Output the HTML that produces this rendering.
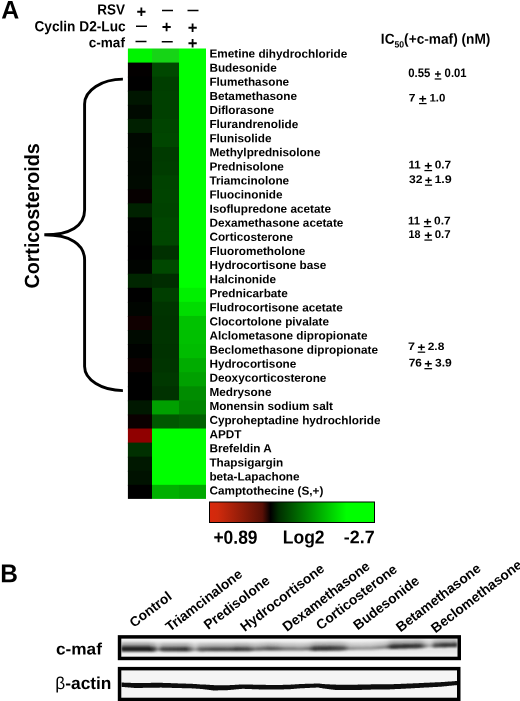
<!DOCTYPE html>
<html><head><meta charset="utf-8"><title>Figure</title>
<style>
html,body{margin:0;padding:0;background:#fff;}
body{width:520px;height:701px;overflow:hidden;}
svg{display:block;}
text{font-family:"Liberation Sans",Arial,Helvetica,sans-serif;font-weight:bold;fill:#000;text-rendering:geometricPrecision;}
</style></head><body>
<svg width="520" height="701" viewBox="0 0 520 701">
<defs>
<linearGradient id="cb" x1="0" x2="1" y1="0" y2="0">
<stop offset="0" stop-color="#d8280c"/>
<stop offset="0.05" stop-color="#d02a0c"/>
<stop offset="0.32" stop-color="#5a1006"/>
<stop offset="0.37" stop-color="#000000"/>
<stop offset="0.42" stop-color="#002e00"/>
<stop offset="0.83" stop-color="#00ff00"/>
<stop offset="1" stop-color="#00ff00"/>
</linearGradient>
<filter id="bl1" x="-5%" y="-100%" width="110%" height="300%"><feGaussianBlur stdDeviation="1.0 0.9"/></filter>
<filter id="bl3" x="-5%" y="-100%" width="110%" height="300%"><feGaussianBlur stdDeviation="1.5 1.4"/></filter>
<filter id="bl2" x="-5%" y="-50%" width="110%" height="200%"><feGaussianBlur stdDeviation="0.5 0.45"/></filter>
<clipPath id="cclip"><rect x="121.3" y="638.6" width="336.4" height="18.6"/></clipPath>
<clipPath id="bclip"><rect x="121.3" y="670.4" width="336" height="27.3"/></clipPath>
</defs>
<rect width="520" height="701" fill="#fff"/>
<g transform="translate(1.33,18.40) scale(1.1322,1.1560) rotate(0.03)"><text x="0" y="0" font-size="22">A</text></g>
<g transform="translate(97.15,14.40) scale(1.0019,1.0895) rotate(0.03)"><text x="0" y="0" font-size="13.5">RSV</text></g>
<g transform="translate(34.39,31.20) scale(1.0135,1.0842) rotate(0.03)"><text x="0" y="0" font-size="13.5">Cyclin D2-Luc</text></g>
<g transform="translate(88.70,47.20) scale(1.0056,1.0256) rotate(0.03)"><text x="0" y="0" font-size="13.5">c-maf</text></g>
<g transform="translate(380.84,43.65) scale(1.0136,1.0703) rotate(0.03)"><text x="0" y="0" font-size="13.5">IC<tspan font-size="8.5" dy="3.7">50</tspan><tspan dy="-3.7">(+c-maf) (nM)</tspan></text></g>
<g transform="translate(213.43,543.70) scale(1.0251,1.1234) rotate(0.03)"><text x="0" y="0" font-size="17">+0.89</text></g>
<g transform="translate(282.71,543.50) scale(1.0323,1.1064) rotate(0.03)"><text x="0" y="0" font-size="17">Log2</text></g>
<g transform="translate(343.81,543.30) scale(1.0523,1.0723) rotate(0.03)"><text x="0" y="0" font-size="17">-2.7</text></g>
<g transform="translate(0.18,582.30) scale(1.1111,1.1667) rotate(0.03)"><text x="0" y="0" font-size="22">B</text></g>
<g transform="translate(55.95,654.60) scale(0.9967,0.9520) rotate(0.03)"><text x="0" y="0" font-size="17.3">c-maf</text></g>
<g transform="translate(55.25,689.10) scale(1.0028,1.0000) rotate(0.03)"><text x="0" y="0" font-size="17.3"><tspan font-weight="normal">β</tspan>-actin</text></g>
<g transform="translate(136.46,17.13) scale(1.1857,1.1857) rotate(0.03)"><text x="0" y="0" font-size="14" font-weight="normal">+</text></g>
<g transform="translate(162.00,15.05) scale(0.9167,1.4000) rotate(0.03)"><text x="0" y="0" font-size="12" font-weight="normal">—</text></g>
<g transform="translate(187.40,15.05) scale(0.9167,1.4000) rotate(0.03)"><text x="0" y="0" font-size="12" font-weight="normal">—</text></g>
<g transform="translate(135.90,30.75) scale(0.9167,1.4000) rotate(0.03)"><text x="0" y="0" font-size="12" font-weight="normal">—</text></g>
<g transform="translate(161.76,32.53) scale(1.1857,1.1857) rotate(0.03)"><text x="0" y="0" font-size="14" font-weight="normal">+</text></g>
<g transform="translate(187.66,33.33) scale(1.1857,1.1857) rotate(0.03)"><text x="0" y="0" font-size="14" font-weight="normal">+</text></g>
<g transform="translate(135.50,46.05) scale(0.9167,1.4000) rotate(0.03)"><text x="0" y="0" font-size="12" font-weight="normal">—</text></g>
<g transform="translate(161.70,46.35) scale(0.9167,1.4000) rotate(0.03)"><text x="0" y="0" font-size="12" font-weight="normal">—</text></g>
<g transform="translate(187.66,48.73) scale(1.1857,1.1857) rotate(0.03)"><text x="0" y="0" font-size="14" font-weight="normal">+</text></g>
<g>
<rect x="127.9" y="48.50" width="24.10" height="15.07" fill="#00f400"/>
<rect x="152" y="48.50" width="27.00" height="15.07" fill="#16d416"/>
<rect x="179" y="48.50" width="27.00" height="15.07" fill="#00ff00"/>
<rect x="127.9" y="62.58" width="24.10" height="15.07" fill="#030000"/>
<rect x="152" y="62.58" width="27.00" height="15.07" fill="#004800"/>
<rect x="179" y="62.58" width="27.00" height="15.07" fill="#00ff00"/>
<rect x="127.9" y="76.65" width="24.10" height="15.07" fill="#000000"/>
<rect x="152" y="76.65" width="27.00" height="15.07" fill="#003e00"/>
<rect x="179" y="76.65" width="27.00" height="15.07" fill="#00ff00"/>
<rect x="127.9" y="90.72" width="24.10" height="15.07" fill="#001600"/>
<rect x="152" y="90.72" width="27.00" height="15.07" fill="#004000"/>
<rect x="179" y="90.72" width="27.00" height="15.07" fill="#00ff00"/>
<rect x="127.9" y="104.80" width="24.10" height="15.07" fill="#000a00"/>
<rect x="152" y="104.80" width="27.00" height="15.07" fill="#004000"/>
<rect x="179" y="104.80" width="27.00" height="15.07" fill="#00ff00"/>
<rect x="127.9" y="118.88" width="24.10" height="15.07" fill="#002000"/>
<rect x="152" y="118.88" width="27.00" height="15.07" fill="#004400"/>
<rect x="179" y="118.88" width="27.00" height="15.07" fill="#00ff00"/>
<rect x="127.9" y="132.95" width="24.10" height="15.07" fill="#000800"/>
<rect x="152" y="132.95" width="27.00" height="15.07" fill="#004600"/>
<rect x="179" y="132.95" width="27.00" height="15.07" fill="#00ff00"/>
<rect x="127.9" y="147.02" width="24.10" height="15.07" fill="#000a00"/>
<rect x="152" y="147.02" width="27.00" height="15.07" fill="#003a00"/>
<rect x="179" y="147.02" width="27.00" height="15.07" fill="#00ff00"/>
<rect x="127.9" y="161.10" width="24.10" height="15.07" fill="#000800"/>
<rect x="152" y="161.10" width="27.00" height="15.07" fill="#003c00"/>
<rect x="179" y="161.10" width="27.00" height="15.07" fill="#00ff00"/>
<rect x="127.9" y="175.18" width="24.10" height="15.07" fill="#000a00"/>
<rect x="152" y="175.18" width="27.00" height="15.07" fill="#004200"/>
<rect x="179" y="175.18" width="27.00" height="15.07" fill="#00ff00"/>
<rect x="127.9" y="189.25" width="24.10" height="15.07" fill="#060000"/>
<rect x="152" y="189.25" width="27.00" height="15.07" fill="#004400"/>
<rect x="179" y="189.25" width="27.00" height="15.07" fill="#00ff00"/>
<rect x="127.9" y="203.32" width="24.10" height="15.07" fill="#002200"/>
<rect x="152" y="203.32" width="27.00" height="15.07" fill="#004200"/>
<rect x="179" y="203.32" width="27.00" height="15.07" fill="#00ff00"/>
<rect x="127.9" y="217.40" width="24.10" height="15.07" fill="#000400"/>
<rect x="152" y="217.40" width="27.00" height="15.07" fill="#004600"/>
<rect x="179" y="217.40" width="27.00" height="15.07" fill="#00ff00"/>
<rect x="127.9" y="231.47" width="24.10" height="15.07" fill="#000200"/>
<rect x="152" y="231.47" width="27.00" height="15.07" fill="#004600"/>
<rect x="179" y="231.47" width="27.00" height="15.07" fill="#00ff00"/>
<rect x="127.9" y="245.55" width="24.10" height="15.07" fill="#000000"/>
<rect x="152" y="245.55" width="27.00" height="15.07" fill="#003000"/>
<rect x="179" y="245.55" width="27.00" height="15.07" fill="#00ff00"/>
<rect x="127.9" y="259.62" width="24.10" height="15.07" fill="#000400"/>
<rect x="152" y="259.62" width="27.00" height="15.07" fill="#004800"/>
<rect x="179" y="259.62" width="27.00" height="15.07" fill="#00ff00"/>
<rect x="127.9" y="273.70" width="24.10" height="15.07" fill="#002600"/>
<rect x="152" y="273.70" width="27.00" height="15.07" fill="#002c00"/>
<rect x="179" y="273.70" width="27.00" height="15.07" fill="#00ff00"/>
<rect x="127.9" y="287.77" width="24.10" height="15.07" fill="#000000"/>
<rect x="152" y="287.77" width="27.00" height="15.07" fill="#003e00"/>
<rect x="179" y="287.77" width="27.00" height="15.07" fill="#00f000"/>
<rect x="127.9" y="301.85" width="24.10" height="15.07" fill="#000500"/>
<rect x="152" y="301.85" width="27.00" height="15.07" fill="#003400"/>
<rect x="179" y="301.85" width="27.00" height="15.07" fill="#00dc00"/>
<rect x="127.9" y="315.93" width="24.10" height="15.07" fill="#100000"/>
<rect x="152" y="315.93" width="27.00" height="15.07" fill="#003200"/>
<rect x="179" y="315.93" width="27.00" height="15.07" fill="#00c200"/>
<rect x="127.9" y="330.00" width="24.10" height="15.07" fill="#000a00"/>
<rect x="152" y="330.00" width="27.00" height="15.07" fill="#003400"/>
<rect x="179" y="330.00" width="27.00" height="15.07" fill="#00c000"/>
<rect x="127.9" y="344.07" width="24.10" height="15.07" fill="#000200"/>
<rect x="152" y="344.07" width="27.00" height="15.07" fill="#003200"/>
<rect x="179" y="344.07" width="27.00" height="15.07" fill="#00bc00"/>
<rect x="127.9" y="358.15" width="24.10" height="15.07" fill="#0c0000"/>
<rect x="152" y="358.15" width="27.00" height="15.07" fill="#003400"/>
<rect x="179" y="358.15" width="27.00" height="15.07" fill="#00ac00"/>
<rect x="127.9" y="372.22" width="24.10" height="15.07" fill="#000000"/>
<rect x="152" y="372.22" width="27.00" height="15.07" fill="#003800"/>
<rect x="179" y="372.22" width="27.00" height="15.07" fill="#00a000"/>
<rect x="127.9" y="386.30" width="24.10" height="15.07" fill="#000000"/>
<rect x="152" y="386.30" width="27.00" height="15.07" fill="#003200"/>
<rect x="179" y="386.30" width="27.00" height="15.07" fill="#008c00"/>
<rect x="127.9" y="400.38" width="24.10" height="15.07" fill="#001800"/>
<rect x="152" y="400.38" width="27.00" height="15.07" fill="#00a000"/>
<rect x="179" y="400.38" width="27.00" height="15.07" fill="#008400"/>
<rect x="127.9" y="414.45" width="24.10" height="15.07" fill="#0a0000"/>
<rect x="152" y="414.45" width="27.00" height="15.07" fill="#005800"/>
<rect x="179" y="414.45" width="27.00" height="15.07" fill="#006000"/>
<rect x="127.9" y="428.52" width="24.10" height="15.07" fill="#900000"/>
<rect x="152" y="428.52" width="27.00" height="15.07" fill="#00ff00"/>
<rect x="179" y="428.52" width="27.00" height="15.07" fill="#00ff00"/>
<rect x="127.9" y="442.60" width="24.10" height="15.07" fill="#003000"/>
<rect x="152" y="442.60" width="27.00" height="15.07" fill="#00ff00"/>
<rect x="179" y="442.60" width="27.00" height="15.07" fill="#00ff00"/>
<rect x="127.9" y="456.67" width="24.10" height="15.07" fill="#001800"/>
<rect x="152" y="456.67" width="27.00" height="15.07" fill="#00ff00"/>
<rect x="179" y="456.67" width="27.00" height="15.07" fill="#00ff00"/>
<rect x="127.9" y="470.75" width="24.10" height="15.07" fill="#001200"/>
<rect x="152" y="470.75" width="27.00" height="15.07" fill="#00ff00"/>
<rect x="179" y="470.75" width="27.00" height="15.07" fill="#00ff00"/>
<rect x="127.9" y="484.82" width="24.10" height="14.07" fill="#000000"/>
<rect x="152" y="484.82" width="27.00" height="14.07" fill="#00b000"/>
<rect x="179" y="484.82" width="27.00" height="14.07" fill="#00a800"/>
</g>
<g transform="translate(209.40,57.60) scale(1.0059,1.0000) rotate(0.03)"><text x="0" y="0" font-size="11.7">Emetine dihydrochloride</text></g>
<g transform="translate(209.40,71.70) scale(1.0059,1.0000) rotate(0.03)"><text x="0" y="0" font-size="11.7">Budesonide</text></g>
<g transform="translate(209.40,85.79) scale(1.0059,1.0000) rotate(0.03)"><text x="0" y="0" font-size="11.7">Flumethasone</text></g>
<g transform="translate(209.40,99.89) scale(1.0059,1.0000) rotate(0.03)"><text x="0" y="0" font-size="11.7">Betamethasone</text></g>
<g transform="translate(209.40,113.99) scale(1.0059,1.0000) rotate(0.03)"><text x="0" y="0" font-size="11.7">Diflorasone</text></g>
<g transform="translate(209.40,128.09) scale(1.0059,1.0000) rotate(0.03)"><text x="0" y="0" font-size="11.7">Flurandrenolide</text></g>
<g transform="translate(209.40,142.18) scale(1.0059,1.0000) rotate(0.03)"><text x="0" y="0" font-size="11.7">Flunisolide</text></g>
<g transform="translate(209.40,156.28) scale(1.0059,1.0000) rotate(0.03)"><text x="0" y="0" font-size="11.7">Methylprednisolone</text></g>
<g transform="translate(209.40,170.38) scale(1.0059,1.0000) rotate(0.03)"><text x="0" y="0" font-size="11.7">Prednisolone</text></g>
<g transform="translate(209.40,184.47) scale(1.0059,1.0000) rotate(0.03)"><text x="0" y="0" font-size="11.7">Triamcinolone</text></g>
<g transform="translate(209.40,198.57) scale(1.0059,1.0000) rotate(0.03)"><text x="0" y="0" font-size="11.7">Fluocinonide</text></g>
<g transform="translate(209.40,212.67) scale(1.0059,1.0000) rotate(0.03)"><text x="0" y="0" font-size="11.7">Isoflupredone acetate</text></g>
<g transform="translate(209.40,226.76) scale(1.0059,1.0000) rotate(0.03)"><text x="0" y="0" font-size="11.7">Dexamethasone acetate</text></g>
<g transform="translate(209.40,240.86) scale(1.0059,1.0000) rotate(0.03)"><text x="0" y="0" font-size="11.7">Corticosterone</text></g>
<g transform="translate(209.40,254.96) scale(1.0059,1.0000) rotate(0.03)"><text x="0" y="0" font-size="11.7">Fluorometholone</text></g>
<g transform="translate(209.40,269.06) scale(1.0059,1.0000) rotate(0.03)"><text x="0" y="0" font-size="11.7">Hydrocortisone base</text></g>
<g transform="translate(209.40,283.15) scale(1.0059,1.0000) rotate(0.03)"><text x="0" y="0" font-size="11.7">Halcinonide</text></g>
<g transform="translate(209.40,297.25) scale(1.0059,1.0000) rotate(0.03)"><text x="0" y="0" font-size="11.7">Prednicarbate</text></g>
<g transform="translate(209.40,311.35) scale(1.0059,1.0000) rotate(0.03)"><text x="0" y="0" font-size="11.7">Fludrocortisone acetate</text></g>
<g transform="translate(209.40,325.44) scale(1.0059,1.0000) rotate(0.03)"><text x="0" y="0" font-size="11.7">Clocortolone pivalate</text></g>
<g transform="translate(209.40,339.54) scale(1.0059,1.0000) rotate(0.03)"><text x="0" y="0" font-size="11.7">Alclometasone dipropionate</text></g>
<g transform="translate(209.40,353.64) scale(1.0059,1.0000) rotate(0.03)"><text x="0" y="0" font-size="11.7">Beclomethasone dipropionate</text></g>
<g transform="translate(209.40,367.73) scale(1.0059,1.0000) rotate(0.03)"><text x="0" y="0" font-size="11.7">Hydrocortisone</text></g>
<g transform="translate(209.40,381.83) scale(1.0059,1.0000) rotate(0.03)"><text x="0" y="0" font-size="11.7">Deoxycorticosterone</text></g>
<g transform="translate(209.40,395.93) scale(1.0059,1.0000) rotate(0.03)"><text x="0" y="0" font-size="11.7">Medrysone</text></g>
<g transform="translate(209.40,410.03) scale(1.0059,1.0000) rotate(0.03)"><text x="0" y="0" font-size="11.7">Monensin sodium salt</text></g>
<g transform="translate(209.40,424.12) scale(1.0059,1.0000) rotate(0.03)"><text x="0" y="0" font-size="11.7">Cyproheptadine hydrochloride</text></g>
<g transform="translate(209.40,438.22) scale(1.0059,1.0000) rotate(0.03)"><text x="0" y="0" font-size="11.7">APDT</text></g>
<g transform="translate(209.40,452.32) scale(1.0059,1.0000) rotate(0.03)"><text x="0" y="0" font-size="11.7">Brefeldin A</text></g>
<g transform="translate(209.40,466.41) scale(1.0059,1.0000) rotate(0.03)"><text x="0" y="0" font-size="11.7">Thapsigargin</text></g>
<g transform="translate(209.40,480.51) scale(1.0059,1.0000) rotate(0.03)"><text x="0" y="0" font-size="11.7">beta-Lapachone</text></g>
<g transform="translate(209.40,494.61) scale(1.0059,1.0000) rotate(0.03)"><text x="0" y="0" font-size="11.7">Camptothecine (S,+)</text></g>
<g transform="translate(408.31,76.90) scale(0.9860,1.0750) rotate(0.03)"><text x="0" y="0" font-size="11.5">0.55</text></g>
<g transform="translate(434.60,78.04) scale(1.0087,1.0435) rotate(0.03)"><text x="0" y="0" font-size="11.5">+</text></g>
<g transform="translate(444.61,76.90) scale(0.9814,1.0750) rotate(0.03)"><text x="0" y="0" font-size="11.5">0.01</text></g>
<rect x="434.70" y="78.35" width="6.60" height="1.25" fill="#000"/>
<g transform="translate(408.77,101.50) scale(1.0545,0.9625) rotate(0.03)"><text x="0" y="0" font-size="11.5">7</text></g>
<g transform="translate(418.81,102.64) scale(1.1826,1.0435) rotate(0.03)"><text x="0" y="0" font-size="11.5">+</text></g>
<g transform="translate(429.45,101.50) scale(0.9966,0.9625) rotate(0.03)"><text x="0" y="0" font-size="11.5">1.0</text></g>
<rect x="419.00" y="102.95" width="7.60" height="1.25" fill="#000"/>
<g transform="translate(408.45,168.50) scale(1.0000,0.9875) rotate(0.03)"><text x="0" y="0" font-size="11.5">11</text></g>
<g transform="translate(424.20,169.64) scale(1.2000,1.0435) rotate(0.03)"><text x="0" y="0" font-size="11.5">+</text></g>
<g transform="translate(434.68,168.50) scale(1.0333,0.9875) rotate(0.03)"><text x="0" y="0" font-size="11.5">0.7</text></g>
<rect x="424.40" y="169.95" width="7.70" height="1.25" fill="#000"/>
<g transform="translate(408.94,183.10) scale(1.0583,0.9625) rotate(0.03)"><text x="0" y="0" font-size="11.5">32</text></g>
<g transform="translate(424.74,184.24) scale(1.1130,1.0435) rotate(0.03)"><text x="0" y="0" font-size="11.5">+</text></g>
<g transform="translate(434.38,183.10) scale(1.0915,0.9625) rotate(0.03)"><text x="0" y="0" font-size="11.5">1.9</text></g>
<rect x="424.90" y="184.55" width="7.20" height="1.25" fill="#000"/>
<g transform="translate(408.06,224.50) scale(0.9818,0.9875) rotate(0.03)"><text x="0" y="0" font-size="11.5">11</text></g>
<g transform="translate(423.60,225.64) scale(1.2000,1.0435) rotate(0.03)"><text x="0" y="0" font-size="11.5">+</text></g>
<g transform="translate(434.08,224.50) scale(1.0400,0.9875) rotate(0.03)"><text x="0" y="0" font-size="11.5">0.7</text></g>
<rect x="423.80" y="225.95" width="7.70" height="1.25" fill="#000"/>
<g transform="translate(408.50,238.00) scale(0.9362,0.9750) rotate(0.03)"><text x="0" y="0" font-size="11.5">18</text></g>
<g transform="translate(424.20,239.14) scale(1.2000,1.0435) rotate(0.03)"><text x="0" y="0" font-size="11.5">+</text></g>
<g transform="translate(434.70,238.00) scale(1.0000,0.9750) rotate(0.03)"><text x="0" y="0" font-size="11.5">0.7</text></g>
<rect x="424.40" y="239.45" width="7.70" height="1.25" fill="#000"/>
<g transform="translate(408.05,350.10) scale(1.0909,0.9375) rotate(0.03)"><text x="0" y="0" font-size="11.5">7</text></g>
<g transform="translate(417.52,351.24) scale(1.1652,1.0435) rotate(0.03)"><text x="0" y="0" font-size="11.5">+</text></g>
<g transform="translate(427.68,350.10) scale(1.0400,0.9375) rotate(0.03)"><text x="0" y="0" font-size="11.5">2.8</text></g>
<rect x="417.70" y="351.55" width="7.50" height="1.25" fill="#000"/>
<g transform="translate(408.69,366.60) scale(1.0298,0.9750) rotate(0.03)"><text x="0" y="0" font-size="11.5">76</text></g>
<g transform="translate(424.20,367.74) scale(1.2000,1.0435) rotate(0.03)"><text x="0" y="0" font-size="11.5">+</text></g>
<g transform="translate(434.94,366.60) scale(1.0557,0.9750) rotate(0.03)"><text x="0" y="0" font-size="11.5">3.9</text></g>
<rect x="424.40" y="368.05" width="7.70" height="1.25" fill="#000"/>
<g transform="translate(38.70,288.49) rotate(-90) scale(1.0513,1.0963)"><text x="0" y="0" font-size="18.7">Corticosteroids</text></g>
<path d="M122.9,79.1 C101.7,79.1 84.6,90.3 84.6,104 L84.6,210 C84.6,226 70,234.8 44.3,234.8 C70,234.8 84.6,244 84.6,260 L84.6,366.6 C84.6,379.9 101.7,390.6 122.9,390.6" stroke="#000" stroke-width="2.9" fill="none"/>
<rect x="209.5" y="502" width="165" height="20.5" fill="url(#cb)" stroke="#000" stroke-width="1"/>
<text transform="translate(133.9,627.9) rotate(-37.4)" font-size="13.75">Control</text>
<text transform="translate(169.9,632.1) rotate(-37.4)" font-size="13.75">Triamcinalone</text>
<text transform="translate(208.3,630.1) rotate(-37.4)" font-size="13.75">Predisolone</text>
<text transform="translate(244.7,632.1) rotate(-37.4)" font-size="13.75">Hydrocortisone</text>
<text transform="translate(287.1,632.1) rotate(-37.4)" font-size="13.75">Dexamethasone</text>
<text transform="translate(320.5,630.4) rotate(-37.4)" font-size="13.75">Corticosterone</text>
<text transform="translate(357.8,630.4) rotate(-37.4)" font-size="13.75">Budesonide</text>
<text transform="translate(400.5,632.4) rotate(-37.4)" font-size="13.75">Betamethasone</text>
<text transform="translate(435.5,633.4) rotate(-37.4)" font-size="13.75">Beclomethasone</text>
<linearGradient id="cbg" x1="0" x2="0" y1="0" y2="1"><stop offset="0" stop-color="#f6f6f6"/><stop offset="0.25" stop-color="#eeeeee"/><stop offset="0.65" stop-color="#e8e8e8"/><stop offset="1" stop-color="#f6f6f6"/></linearGradient>
<rect x="121.3" y="638.6" width="336.4" height="18.6" fill="url(#cbg)"/>
<linearGradient id="cm" gradientUnits="userSpaceOnUse" x1="121" x2="457.4" y1="0" y2="0"><stop offset="0.0000" stop-color="#1c1c1c"/><stop offset="0.0862" stop-color="#1c1c1c"/><stop offset="0.1011" stop-color="#505050"/><stop offset="0.1100" stop-color="#909090"/><stop offset="0.1219" stop-color="#484848"/><stop offset="0.1397" stop-color="#444444"/><stop offset="0.1635" stop-color="#404040"/><stop offset="0.1932" stop-color="#343434"/><stop offset="0.2081" stop-color="#707070"/><stop offset="0.2200" stop-color="#a0a0a0"/><stop offset="0.2348" stop-color="#606060"/><stop offset="0.2794" stop-color="#484848"/><stop offset="0.3181" stop-color="#505050"/><stop offset="0.3419" stop-color="#404040"/><stop offset="0.3775" stop-color="#484848"/><stop offset="0.3983" stop-color="#707070"/><stop offset="0.4191" stop-color="#686868"/><stop offset="0.4429" stop-color="#505050"/><stop offset="0.4667" stop-color="#606060"/><stop offset="0.4875" stop-color="#787878"/><stop offset="0.5321" stop-color="#808080"/><stop offset="0.5559" stop-color="#707070"/><stop offset="0.5737" stop-color="#3a3a3a"/><stop offset="0.6064" stop-color="#303030"/><stop offset="0.6302" stop-color="#404040"/><stop offset="0.6629" stop-color="#505050"/><stop offset="0.6807" stop-color="#909090"/><stop offset="0.7402" stop-color="#989898"/><stop offset="0.7848" stop-color="#808080"/><stop offset="0.8056" stop-color="#303030"/><stop offset="0.8442" stop-color="#303030"/><stop offset="0.8888" stop-color="#3c3c3c"/><stop offset="0.9067" stop-color="#909090"/><stop offset="0.9185" stop-color="#b0b0b0"/><stop offset="0.9334" stop-color="#505050"/><stop offset="0.9631" stop-color="#383838"/><stop offset="0.9988" stop-color="#404040"/></linearGradient>
<g clip-path="url(#cclip)"><polygon points="121.3,642.50 122.3,642.51 123.3,642.51 124.3,642.51 125.3,642.52 126.3,642.52 127.3,642.53 128.3,642.53 129.3,642.54 130.3,642.54 131.3,642.54 132.3,642.55 133.3,642.55 134.3,642.56 135.3,642.56 136.3,642.57 137.3,642.57 138.3,642.58 139.3,642.58 140.3,642.58 141.3,642.59 142.3,642.59 143.3,642.60 144.3,642.60 145.3,642.61 146.3,642.61 147.3,642.61 148.3,642.62 149.3,642.62 150.3,642.63 151.3,642.63 152.3,642.64 153.3,642.64 154.3,642.70 155.3,642.91 156.3,643.11 157.3,643.32 158.3,643.43 159.3,643.34 160.3,643.24 161.3,643.15 162.3,643.05 163.3,642.98 164.3,642.99 165.3,642.99 166.3,643.00 167.3,643.00 168.3,643.01 169.3,643.01 170.3,643.01 171.3,643.02 172.3,643.02 173.3,643.03 174.3,643.03 175.3,643.04 176.3,643.04 177.3,643.04 178.3,643.05 179.3,643.05 180.3,643.06 181.3,643.06 182.3,643.07 183.3,643.07 184.3,643.08 185.3,643.08 186.3,643.08 187.3,643.09 188.3,643.09 189.3,643.10 190.3,643.14 191.3,643.25 192.3,643.37 193.3,643.49 194.3,643.61 195.3,643.66 196.3,643.56 197.3,643.46 198.3,643.36 199.3,643.25 200.3,643.18 201.3,643.18 202.3,643.18 203.3,643.18 204.3,643.18 205.3,643.17 206.3,643.17 207.3,643.17 208.3,643.17 209.3,643.17 210.3,643.17 211.3,643.16 212.3,643.16 213.3,643.16 214.3,643.16 215.3,643.16 216.3,643.16 217.3,643.15 218.3,643.15 219.3,643.15 220.3,643.15 221.3,643.15 222.3,643.15 223.3,643.14 224.3,643.14 225.3,643.14 226.3,643.14 227.3,643.14 228.3,643.14 229.3,643.13 230.3,643.13 231.3,643.13 232.3,643.13 233.3,643.13 234.3,643.13 235.3,643.12 236.3,643.12 237.3,643.12 238.3,643.12 239.3,643.12 240.3,643.12 241.3,643.11 242.3,643.11 243.3,643.11 244.3,643.11 245.3,643.11 246.3,643.11 247.3,643.10 248.3,643.12 249.3,643.16 250.3,643.19 251.3,643.19 252.3,643.19 253.3,643.20 254.3,643.20 255.3,643.18 256.3,643.13 257.3,643.07 258.3,643.02 259.3,642.96 260.3,642.91 261.3,642.85 262.3,642.80 263.3,642.74 264.3,642.68 265.3,642.64 266.3,642.63 267.3,642.62 268.3,642.62 269.3,642.65 270.3,642.67 271.3,642.69 272.3,642.72 273.3,642.74 274.3,642.76 275.3,642.79 276.3,642.81 277.3,642.83 278.3,642.86 279.3,642.88 280.3,642.90 281.3,642.93 282.3,642.95 283.3,642.97 284.3,643.00 285.3,643.02 286.3,643.03 287.3,643.04 288.3,643.05 289.3,643.06 290.3,643.07 291.3,643.08 292.3,643.09 293.3,643.10 294.3,643.11 295.3,643.12 296.3,643.13 297.3,643.14 298.3,643.15 299.3,643.16 300.3,643.16 301.3,643.15 302.3,643.14 303.3,643.14 304.3,643.13 305.3,643.12 306.3,643.11 307.3,643.10 308.3,643.05 309.3,642.92 310.3,642.79 311.3,642.66 312.3,642.53 313.3,642.40 314.3,642.31 315.3,642.30 316.3,642.28 317.3,642.27 318.3,642.26 319.3,642.24 320.3,642.23 321.3,642.22 322.3,642.20 323.3,642.19 324.3,642.18 325.3,642.16 326.3,642.15 327.3,642.14 328.3,642.12 329.3,642.11 330.3,642.10 331.3,642.09 332.3,642.09 333.3,642.08 334.3,642.08 335.3,642.07 336.3,642.07 337.3,642.06 338.3,642.06 339.3,642.05 340.3,642.07 341.3,642.13 342.3,642.20 343.3,642.26 344.3,642.33 345.3,642.39 346.3,642.46 347.3,642.52 348.3,642.59 349.3,642.65 350.3,642.70 351.3,642.69 352.3,642.69 353.3,642.68 354.3,642.68 355.3,642.67 356.3,642.67 357.3,642.66 358.3,642.66 359.3,642.65 360.3,642.65 361.3,642.64 362.3,642.64 363.3,642.63 364.3,642.63 365.3,642.62 366.3,642.62 367.3,642.61 368.3,642.61 369.3,642.60 370.3,642.58 371.3,642.51 372.3,642.44 373.3,642.37 374.3,642.30 375.3,642.23 376.3,642.16 377.3,642.09 378.3,642.02 379.3,641.95 380.3,641.88 381.3,641.81 382.3,641.74 383.3,641.67 384.3,641.60 385.3,641.53 386.3,641.42 387.3,641.24 388.3,641.05 389.3,640.86 390.3,640.69 391.3,640.54 392.3,640.43 393.3,640.40 394.3,640.37 395.3,640.34 396.3,640.31 397.3,640.28 398.3,640.25 399.3,640.22 400.3,640.19 401.3,640.17 402.3,640.14 403.3,640.12 404.3,640.10 405.3,640.07 406.3,640.05 407.3,640.02 408.3,640.00 409.3,639.98 410.3,639.95 411.3,639.93 412.3,639.90 413.3,639.88 414.3,639.86 415.3,639.83 416.3,639.81 417.3,639.78 418.3,639.76 419.3,639.74 420.3,639.71 421.3,639.69 422.3,639.70 423.3,639.79 424.3,639.88 425.3,639.97 426.3,640.04 427.3,640.11 428.3,640.19 429.3,640.19 430.3,640.04 431.3,639.88 432.3,639.72 433.3,639.57 434.3,639.41 435.3,639.29 436.3,639.25 437.3,639.21 438.3,639.17 439.3,639.13 440.3,639.09 441.3,639.08 442.3,639.06 443.3,639.04 444.3,639.02 445.3,639.01 446.3,638.99 447.3,638.97 448.3,638.95 449.3,638.94 450.3,638.92 451.3,638.90 452.3,638.88 453.3,638.87 454.3,638.85 455.3,638.83 456.3,638.81 457.3,638.80 457.3,645.50 456.3,645.51 455.3,645.53 454.3,645.55 453.3,645.57 452.3,645.58 451.3,645.60 450.3,645.62 449.3,645.64 448.3,645.65 447.3,645.67 446.3,645.69 445.3,645.71 444.3,645.72 443.3,645.74 442.3,645.76 441.3,645.78 440.3,645.79 439.3,645.83 438.3,645.87 437.3,645.91 436.3,645.95 435.3,645.99 434.3,646.03 433.3,646.07 432.3,646.11 431.3,646.15 430.3,646.19 429.3,646.23 428.3,646.27 427.3,646.31 426.3,646.35 425.3,646.39 424.3,646.42 423.3,646.44 422.3,646.46 421.3,646.49 420.3,646.51 419.3,646.54 418.3,646.56 417.3,646.58 416.3,646.61 415.3,646.63 414.3,646.66 413.3,646.68 412.3,646.70 411.3,646.73 410.3,646.75 409.3,646.78 408.3,646.80 407.3,646.82 406.3,646.85 405.3,646.87 404.3,646.90 403.3,646.92 402.3,646.94 401.3,646.97 400.3,646.99 399.3,647.02 398.3,647.05 397.3,647.08 396.3,647.11 395.3,647.14 394.3,647.17 393.3,647.20 392.3,647.23 391.3,647.26 390.3,647.29 389.3,647.35 388.3,647.42 387.3,647.49 386.3,647.56 385.3,647.63 384.3,647.70 383.3,647.77 382.3,647.84 381.3,647.91 380.3,647.98 379.3,648.05 378.3,648.12 377.3,648.19 376.3,648.26 375.3,648.33 374.3,648.40 373.3,648.47 372.3,648.54 371.3,648.61 370.3,648.68 369.3,648.70 368.3,648.71 367.3,648.71 366.3,648.72 365.3,648.72 364.3,648.73 363.3,648.73 362.3,648.74 361.3,648.74 360.3,648.75 359.3,648.75 358.3,648.76 357.3,648.76 356.3,648.77 355.3,648.77 354.3,648.78 353.3,648.78 352.3,648.79 351.3,648.79 350.3,648.80 349.3,648.80 348.3,648.81 347.3,648.81 346.3,648.82 345.3,648.82 344.3,648.83 343.3,648.83 342.3,648.84 341.3,648.84 340.3,648.85 339.3,648.85 338.3,648.86 337.3,648.86 336.3,648.87 335.3,648.87 334.3,648.88 333.3,648.88 332.3,648.89 331.3,648.89 330.3,648.90 329.3,648.91 328.3,648.92 327.3,648.94 326.3,648.95 325.3,648.96 324.3,648.98 323.3,648.99 322.3,649.00 321.3,649.02 320.3,649.03 319.3,649.04 318.3,649.06 317.3,649.07 316.3,649.08 315.3,649.10 314.3,649.11 313.3,649.12 312.3,649.14 311.3,649.15 310.3,649.16 309.3,649.18 308.3,649.19 307.3,649.20 306.3,649.22 305.3,649.23 304.3,649.24 303.3,649.26 302.3,649.27 301.3,649.28 300.3,649.30 299.3,649.30 298.3,649.29 297.3,649.28 296.3,649.28 295.3,649.27 294.3,649.27 293.3,649.26 292.3,649.26 291.3,649.25 290.3,649.24 289.3,649.24 288.3,649.23 287.3,649.23 286.3,649.22 285.3,649.22 284.3,649.21 283.3,649.20 282.3,649.20 281.3,649.19 280.3,649.19 279.3,649.18 278.3,649.18 277.3,649.17 276.3,649.16 275.3,649.16 274.3,649.15 273.3,649.15 272.3,649.14 271.3,649.14 270.3,649.13 269.3,649.12 268.3,649.12 267.3,649.11 266.3,649.11 265.3,649.10 264.3,649.13 263.3,649.17 262.3,649.21 261.3,649.25 260.3,649.29 259.3,649.33 258.3,649.37 257.3,649.41 256.3,649.45 255.3,649.49 254.3,649.53 253.3,649.57 252.3,649.61 251.3,649.65 250.3,649.69 249.3,649.70 248.3,649.70 247.3,649.70 246.3,649.71 245.3,649.71 244.3,649.71 243.3,649.71 242.3,649.71 241.3,649.71 240.3,649.72 239.3,649.72 238.3,649.72 237.3,649.72 236.3,649.72 235.3,649.72 234.3,649.73 233.3,649.73 232.3,649.73 231.3,649.73 230.3,649.73 229.3,649.73 228.3,649.74 227.3,649.74 226.3,649.74 225.3,649.74 224.3,649.74 223.3,649.74 222.3,649.75 221.3,649.75 220.3,649.75 219.3,649.75 218.3,649.75 217.3,649.75 216.3,649.76 215.3,649.76 214.3,649.76 213.3,649.76 212.3,649.76 211.3,649.76 210.3,649.77 209.3,649.77 208.3,649.77 207.3,649.77 206.3,649.77 205.3,649.77 204.3,649.78 203.3,649.78 202.3,649.78 201.3,649.78 200.3,649.78 199.3,649.78 198.3,649.79 197.3,649.79 196.3,649.79 195.3,649.79 194.3,649.79 193.3,649.79 192.3,649.80 191.3,649.80 190.3,649.80 189.3,649.80 188.3,649.79 187.3,649.79 186.3,649.78 185.3,649.78 184.3,649.78 183.3,649.77 182.3,649.77 181.3,649.76 180.3,649.76 179.3,649.75 178.3,649.75 177.3,649.74 176.3,649.74 175.3,649.74 174.3,649.73 173.3,649.73 172.3,649.72 171.3,649.72 170.3,649.71 169.3,649.71 168.3,649.71 167.3,649.70 166.3,649.70 165.3,649.69 164.3,649.69 163.3,649.68 162.3,649.68 161.3,649.68 160.3,649.67 159.3,649.67 158.3,649.66 157.3,649.66 156.3,649.65 155.3,649.65 154.3,649.64 153.3,649.64 152.3,649.64 151.3,649.63 150.3,649.63 149.3,649.62 148.3,649.62 147.3,649.61 146.3,649.61 145.3,649.61 144.3,649.60 143.3,649.60 142.3,649.59 141.3,649.59 140.3,649.58 139.3,649.58 138.3,649.58 137.3,649.57 136.3,649.57 135.3,649.56 134.3,649.56 133.3,649.55 132.3,649.55 131.3,649.54 130.3,649.54 129.3,649.54 128.3,649.53 127.3,649.53 126.3,649.52 125.3,649.52 124.3,649.51 123.3,649.51 122.3,649.51 121.3,649.50" fill="url(#cm)" opacity="0.38" filter="url(#bl3)"/>
<polygon points="121.3,646.50 122.3,646.51 123.3,646.51 124.3,646.51 125.3,646.52 126.3,646.52 127.3,646.53 128.3,646.53 129.3,646.54 130.3,646.54 131.3,646.54 132.3,646.55 133.3,646.55 134.3,646.56 135.3,646.56 136.3,646.57 137.3,646.57 138.3,646.58 139.3,646.58 140.3,646.58 141.3,646.59 142.3,646.59 143.3,646.60 144.3,646.60 145.3,646.61 146.3,646.61 147.3,646.61 148.3,646.62 149.3,646.62 150.3,646.63 151.3,646.63 152.3,646.64 153.3,646.64 154.3,646.70 155.3,646.91 156.3,647.11 157.3,647.32 158.3,647.43 159.3,647.34 160.3,647.24 161.3,647.15 162.3,647.05 163.3,646.98 164.3,646.99 165.3,646.99 166.3,647.00 167.3,647.00 168.3,647.01 169.3,647.01 170.3,647.01 171.3,647.02 172.3,647.02 173.3,647.03 174.3,647.03 175.3,647.04 176.3,647.04 177.3,647.04 178.3,647.05 179.3,647.05 180.3,647.06 181.3,647.06 182.3,647.07 183.3,647.07 184.3,647.08 185.3,647.08 186.3,647.08 187.3,647.09 188.3,647.09 189.3,647.10 190.3,647.14 191.3,647.25 192.3,647.37 193.3,647.49 194.3,647.61 195.3,647.66 196.3,647.56 197.3,647.46 198.3,647.36 199.3,647.25 200.3,647.18 201.3,647.18 202.3,647.18 203.3,647.18 204.3,647.18 205.3,647.17 206.3,647.17 207.3,647.17 208.3,647.17 209.3,647.17 210.3,647.17 211.3,647.16 212.3,647.16 213.3,647.16 214.3,647.16 215.3,647.16 216.3,647.16 217.3,647.15 218.3,647.15 219.3,647.15 220.3,647.15 221.3,647.15 222.3,647.15 223.3,647.14 224.3,647.14 225.3,647.14 226.3,647.14 227.3,647.14 228.3,647.14 229.3,647.13 230.3,647.13 231.3,647.13 232.3,647.13 233.3,647.13 234.3,647.13 235.3,647.12 236.3,647.12 237.3,647.12 238.3,647.12 239.3,647.12 240.3,647.12 241.3,647.11 242.3,647.11 243.3,647.11 244.3,647.11 245.3,647.11 246.3,647.11 247.3,647.10 248.3,647.12 249.3,647.16 250.3,647.19 251.3,647.19 252.3,647.19 253.3,647.20 254.3,647.20 255.3,647.18 256.3,647.13 257.3,647.07 258.3,647.02 259.3,646.96 260.3,646.91 261.3,646.85 262.3,646.80 263.3,646.74 264.3,646.68 265.3,646.64 266.3,646.63 267.3,646.62 268.3,646.62 269.3,646.65 270.3,646.67 271.3,646.69 272.3,646.72 273.3,646.74 274.3,646.76 275.3,646.79 276.3,646.81 277.3,646.83 278.3,646.86 279.3,646.88 280.3,646.90 281.3,646.93 282.3,646.95 283.3,646.97 284.3,647.00 285.3,647.02 286.3,647.03 287.3,647.04 288.3,647.05 289.3,647.06 290.3,647.07 291.3,647.08 292.3,647.09 293.3,647.10 294.3,647.11 295.3,647.12 296.3,647.13 297.3,647.14 298.3,647.15 299.3,647.16 300.3,647.16 301.3,647.15 302.3,647.14 303.3,647.14 304.3,647.13 305.3,647.12 306.3,647.11 307.3,647.10 308.3,647.05 309.3,646.92 310.3,646.79 311.3,646.66 312.3,646.53 313.3,646.40 314.3,646.31 315.3,646.30 316.3,646.28 317.3,646.27 318.3,646.26 319.3,646.24 320.3,646.23 321.3,646.22 322.3,646.20 323.3,646.19 324.3,646.18 325.3,646.16 326.3,646.15 327.3,646.14 328.3,646.12 329.3,646.11 330.3,646.10 331.3,646.09 332.3,646.09 333.3,646.08 334.3,646.08 335.3,646.07 336.3,646.07 337.3,646.06 338.3,646.06 339.3,646.05 340.3,646.07 341.3,646.13 342.3,646.20 343.3,646.26 344.3,646.33 345.3,646.39 346.3,646.46 347.3,646.52 348.3,646.59 349.3,646.65 350.3,646.70 351.3,646.69 352.3,646.69 353.3,646.68 354.3,646.68 355.3,646.67 356.3,646.67 357.3,646.66 358.3,646.66 359.3,646.65 360.3,646.65 361.3,646.64 362.3,646.64 363.3,646.63 364.3,646.63 365.3,646.62 366.3,646.62 367.3,646.61 368.3,646.61 369.3,646.60 370.3,646.58 371.3,646.51 372.3,646.44 373.3,646.37 374.3,646.30 375.3,646.23 376.3,646.16 377.3,646.09 378.3,646.02 379.3,645.95 380.3,645.88 381.3,645.81 382.3,645.74 383.3,645.67 384.3,645.60 385.3,645.53 386.3,645.42 387.3,645.24 388.3,645.05 389.3,644.86 390.3,644.69 391.3,644.54 392.3,644.43 393.3,644.40 394.3,644.37 395.3,644.34 396.3,644.31 397.3,644.28 398.3,644.25 399.3,644.22 400.3,644.19 401.3,644.17 402.3,644.14 403.3,644.12 404.3,644.10 405.3,644.07 406.3,644.05 407.3,644.02 408.3,644.00 409.3,643.98 410.3,643.95 411.3,643.93 412.3,643.90 413.3,643.88 414.3,643.86 415.3,643.83 416.3,643.81 417.3,643.78 418.3,643.76 419.3,643.74 420.3,643.71 421.3,643.69 422.3,643.70 423.3,643.79 424.3,643.88 425.3,643.97 426.3,644.04 427.3,644.11 428.3,644.19 429.3,644.19 430.3,644.04 431.3,643.88 432.3,643.72 433.3,643.57 434.3,643.41 435.3,643.29 436.3,643.25 437.3,643.21 438.3,643.17 439.3,643.13 440.3,643.09 441.3,643.08 442.3,643.06 443.3,643.04 444.3,643.02 445.3,643.01 446.3,642.99 447.3,642.97 448.3,642.95 449.3,642.94 450.3,642.92 451.3,642.90 452.3,642.88 453.3,642.87 454.3,642.85 455.3,642.83 456.3,642.81 457.3,642.80 457.3,647.20 456.3,647.21 455.3,647.23 454.3,647.25 453.3,647.27 452.3,647.28 451.3,647.30 450.3,647.32 449.3,647.34 448.3,647.35 447.3,647.37 446.3,647.39 445.3,647.41 444.3,647.42 443.3,647.44 442.3,647.46 441.3,647.48 440.3,647.49 439.3,647.53 438.3,647.57 437.3,647.61 436.3,647.65 435.3,647.69 434.3,647.65 433.3,647.57 432.3,647.49 431.3,647.42 430.3,647.34 429.3,647.26 428.3,647.35 427.3,647.50 426.3,647.66 425.3,647.81 424.3,647.95 423.3,648.09 422.3,648.23 421.3,648.29 420.3,648.31 419.3,648.34 418.3,648.36 417.3,648.38 416.3,648.41 415.3,648.43 414.3,648.46 413.3,648.48 412.3,648.50 411.3,648.53 410.3,648.55 409.3,648.58 408.3,648.60 407.3,648.62 406.3,648.65 405.3,648.67 404.3,648.70 403.3,648.72 402.3,648.74 401.3,648.77 400.3,648.79 399.3,648.82 398.3,648.85 397.3,648.88 396.3,648.91 395.3,648.94 394.3,648.97 393.3,649.00 392.3,649.03 391.3,648.98 390.3,648.89 389.3,648.83 388.3,648.79 387.3,648.74 386.3,648.69 385.3,648.73 384.3,648.80 383.3,648.87 382.3,648.94 381.3,649.01 380.3,649.08 379.3,649.15 378.3,649.22 377.3,649.29 376.3,649.36 375.3,649.43 374.3,649.50 373.3,649.57 372.3,649.64 371.3,649.71 370.3,649.78 369.3,649.80 368.3,649.81 367.3,649.81 366.3,649.82 365.3,649.82 364.3,649.83 363.3,649.83 362.3,649.84 361.3,649.84 360.3,649.85 359.3,649.85 358.3,649.86 357.3,649.86 356.3,649.87 355.3,649.87 354.3,649.88 353.3,649.88 352.3,649.89 351.3,649.89 350.3,649.90 349.3,649.95 348.3,650.03 347.3,650.10 346.3,650.18 345.3,650.25 344.3,650.33 343.3,650.40 342.3,650.48 341.3,650.55 340.3,650.63 339.3,650.65 338.3,650.66 337.3,650.66 336.3,650.67 335.3,650.67 334.3,650.68 333.3,650.68 332.3,650.69 331.3,650.69 330.3,650.70 329.3,650.71 328.3,650.72 327.3,650.74 326.3,650.75 325.3,650.76 324.3,650.78 323.3,650.79 322.3,650.80 321.3,650.82 320.3,650.83 319.3,650.84 318.3,650.86 317.3,650.87 316.3,650.88 315.3,650.90 314.3,650.91 313.3,650.84 312.3,650.74 311.3,650.63 310.3,650.53 309.3,650.43 308.3,650.32 307.3,650.31 306.3,650.32 305.3,650.34 304.3,650.36 303.3,650.38 302.3,650.39 301.3,650.41 300.3,650.43 299.3,650.43 298.3,650.43 297.3,650.43 296.3,650.43 295.3,650.43 294.3,650.43 293.3,650.43 292.3,650.42 291.3,650.42 290.3,650.42 289.3,650.42 288.3,650.42 287.3,650.42 286.3,650.42 285.3,650.41 284.3,650.42 283.3,650.43 282.3,650.45 281.3,650.46 280.3,650.47 279.3,650.48 278.3,650.49 277.3,650.51 276.3,650.52 275.3,650.53 274.3,650.54 273.3,650.55 272.3,650.57 271.3,650.58 270.3,650.59 269.3,650.60 268.3,650.61 267.3,650.60 266.3,650.58 265.3,650.56 264.3,650.57 263.3,650.60 262.3,650.62 261.3,650.64 260.3,650.67 259.3,650.69 258.3,650.72 257.3,650.74 256.3,650.77 255.3,650.79 254.3,650.86 253.3,650.94 252.3,651.02 251.3,651.11 250.3,651.19 249.3,651.25 248.3,651.29 247.3,651.30 246.3,651.31 245.3,651.31 244.3,651.31 243.3,651.31 242.3,651.31 241.3,651.31 240.3,651.32 239.3,651.32 238.3,651.32 237.3,651.32 236.3,651.32 235.3,651.32 234.3,651.33 233.3,651.33 232.3,651.33 231.3,651.33 230.3,651.33 229.3,651.33 228.3,651.34 227.3,651.34 226.3,651.34 225.3,651.34 224.3,651.34 223.3,651.34 222.3,651.35 221.3,651.35 220.3,651.35 219.3,651.35 218.3,651.35 217.3,651.35 216.3,651.36 215.3,651.36 214.3,651.36 213.3,651.36 212.3,651.36 211.3,651.36 210.3,651.37 209.3,651.37 208.3,651.37 207.3,651.37 206.3,651.37 205.3,651.37 204.3,651.38 203.3,651.38 202.3,651.38 201.3,651.38 200.3,651.38 199.3,651.31 198.3,651.22 197.3,651.12 196.3,651.02 195.3,650.92 194.3,650.98 193.3,651.10 192.3,651.22 191.3,651.34 190.3,651.46 189.3,651.50 188.3,651.49 187.3,651.49 186.3,651.48 185.3,651.48 184.3,651.48 183.3,651.47 182.3,651.47 181.3,651.46 180.3,651.46 179.3,651.45 178.3,651.45 177.3,651.44 176.3,651.44 175.3,651.44 174.3,651.43 173.3,651.43 172.3,651.42 171.3,651.42 170.3,651.41 169.3,651.41 168.3,651.41 167.3,651.40 166.3,651.40 165.3,651.39 164.3,651.39 163.3,651.38 162.3,651.31 161.3,651.21 160.3,651.10 159.3,651.00 158.3,650.89 157.3,651.00 156.3,651.19 155.3,651.39 154.3,651.58 153.3,651.64 152.3,651.64 151.3,651.63 150.3,651.63 149.3,651.62 148.3,651.62 147.3,651.61 146.3,651.61 145.3,651.61 144.3,651.60 143.3,651.60 142.3,651.59 141.3,651.59 140.3,651.58 139.3,651.58 138.3,651.58 137.3,651.57 136.3,651.57 135.3,651.56 134.3,651.56 133.3,651.55 132.3,651.55 131.3,651.54 130.3,651.54 129.3,651.54 128.3,651.53 127.3,651.53 126.3,651.52 125.3,651.52 124.3,651.51 123.3,651.51 122.3,651.51 121.3,651.50" fill="url(#cm)" filter="url(#bl1)"/></g>
<rect x="121.3" y="670.4" width="336" height="27.3" fill="#f4f4f4"/>
<g clip-path="url(#bclip)"><polygon points="121.3,682.55 122.3,682.58 123.3,682.62 124.3,682.65 125.3,682.68 126.3,682.71 127.3,682.75 128.3,682.78 129.3,682.81 130.3,682.85 131.3,682.88 132.3,682.91 133.3,682.94 134.3,682.98 135.3,683.00 136.3,682.99 137.3,682.98 138.3,682.97 139.3,682.97 140.3,682.96 141.3,682.95 142.3,682.94 143.3,682.94 144.3,682.93 145.3,682.92 146.3,682.91 147.3,682.91 148.3,682.90 149.3,682.89 150.3,682.88 151.3,682.87 152.3,682.87 153.3,682.86 154.3,682.85 155.3,682.84 156.3,682.84 157.3,682.83 158.3,682.82 159.3,682.81 160.3,682.81 161.3,682.81 162.3,682.84 163.3,682.88 164.3,682.91 165.3,682.94 166.3,682.98 167.3,683.01 168.3,683.04 169.3,683.08 170.3,683.11 171.3,683.14 172.3,683.18 173.3,683.21 174.3,683.24 175.3,683.28 176.3,683.31 177.3,683.34 178.3,683.38 179.3,683.41 180.3,683.44 181.3,683.47 182.3,683.50 183.3,683.54 184.3,683.57 185.3,683.60 186.3,683.63 187.3,683.67 188.3,683.70 189.3,683.73 190.3,683.76 191.3,683.80 192.3,683.84 193.3,683.91 194.3,683.98 195.3,684.05 196.3,684.12 197.3,684.19 198.3,684.26 199.3,684.33 200.3,684.39 201.3,684.43 202.3,684.47 203.3,684.50 204.3,684.54 205.3,684.60 206.3,684.66 207.3,684.72 208.3,684.78 209.3,684.84 210.3,684.90 211.3,684.96 212.3,685.02 213.3,685.09 214.3,685.17 215.3,685.18 216.3,685.20 217.3,685.21 218.3,685.23 219.3,685.24 220.3,685.26 221.3,685.27 222.3,685.29 223.3,685.30 224.3,685.32 225.3,685.33 226.3,685.33 227.3,685.27 228.3,685.22 229.3,685.16 230.3,685.11 231.3,685.05 232.3,684.99 233.3,684.94 234.3,684.88 235.3,684.83 236.3,684.77 237.3,684.72 238.3,684.66 239.3,684.61 240.3,684.55 241.3,684.49 242.3,684.44 243.3,684.41 244.3,684.43 245.3,684.45 246.3,684.48 247.3,684.50 248.3,684.52 249.3,684.55 250.3,684.57 251.3,684.60 252.3,684.62 253.3,684.64 254.3,684.67 255.3,684.69 256.3,684.71 257.3,684.74 258.3,684.76 259.3,684.78 260.3,684.80 261.3,684.82 262.3,684.83 263.3,684.84 264.3,684.85 265.3,684.87 266.3,684.88 267.3,684.89 268.3,684.91 269.3,684.92 270.3,684.93 271.3,684.94 272.3,684.96 273.3,684.97 274.3,684.98 275.3,685.00 276.3,685.01 277.3,685.02 278.3,685.02 279.3,684.99 280.3,684.96 281.3,684.93 282.3,684.89 283.3,684.86 284.3,684.83 285.3,684.80 286.3,684.77 287.3,684.74 288.3,684.70 289.3,684.67 290.3,684.63 291.3,684.57 292.3,684.52 293.3,684.46 294.3,684.40 295.3,684.34 296.3,684.29 297.3,684.23 298.3,684.17 299.3,684.11 300.3,684.06 301.3,684.00 302.3,683.95 303.3,683.92 304.3,683.89 305.3,683.86 306.3,683.83 307.3,683.81 308.3,683.78 309.3,683.75 310.3,683.72 311.3,683.69 312.3,683.66 313.3,683.63 314.3,683.61 315.3,683.58 316.3,683.55 317.3,683.52 318.3,683.53 319.3,683.62 320.3,683.71 321.3,683.80 322.3,683.89 323.3,683.99 324.3,684.08 325.3,684.16 326.3,684.20 327.3,684.25 328.3,684.30 329.3,684.34 330.3,684.39 331.3,684.43 332.3,684.48 333.3,684.53 334.3,684.57 335.3,684.62 336.3,684.67 337.3,684.70 338.3,684.70 339.3,684.70 340.3,684.70 341.3,684.70 342.3,684.70 343.3,684.70 344.3,684.70 345.3,684.70 346.3,684.70 347.3,684.70 348.3,684.70 349.3,684.70 350.3,684.70 351.3,684.70 352.3,684.70 353.3,684.70 354.3,684.69 355.3,684.67 356.3,684.66 357.3,684.64 358.3,684.62 359.3,684.60 360.3,684.58 361.3,684.56 362.3,684.54 363.3,684.52 364.3,684.50 365.3,684.48 366.3,684.46 367.3,684.44 368.3,684.42 369.3,684.40 370.3,684.38 371.3,684.36 372.3,684.34 373.3,684.32 374.3,684.30 375.3,684.29 376.3,684.30 377.3,684.30 378.3,684.31 379.3,684.31 380.3,684.31 381.3,684.32 382.3,684.32 383.3,684.33 384.3,684.33 385.3,684.34 386.3,684.34 387.3,684.34 388.3,684.34 389.3,684.30 390.3,684.26 391.3,684.23 392.3,684.19 393.3,684.15 394.3,684.12 395.3,684.08 396.3,684.04 397.3,684.01 398.3,683.97 399.3,683.93 400.3,683.90 401.3,683.86 402.3,683.82 403.3,683.79 404.3,683.75 405.3,683.71 406.3,683.67 407.3,683.62 408.3,683.58 409.3,683.53 410.3,683.49 411.3,683.44 412.3,683.40 413.3,683.35 414.3,683.31 415.3,683.26 416.3,683.22 417.3,683.17 418.3,683.13 419.3,683.08 420.3,683.04 421.3,682.99 422.3,682.95 423.3,682.90 424.3,682.86 425.3,682.81 426.3,682.77 427.3,682.72 428.3,682.68 429.3,682.63 430.3,682.59 431.3,682.54 432.3,682.50 433.3,682.45 434.3,682.41 435.3,682.36 436.3,682.32 437.3,682.27 438.3,682.23 439.3,682.18 440.3,682.14 441.3,682.09 442.3,682.02 443.3,681.95 444.3,681.88 445.3,681.81 446.3,681.74 447.3,681.66 448.3,681.59 449.3,681.52 450.3,681.45 451.3,681.38 452.3,681.31 453.3,681.24 454.3,681.16 455.3,681.09 456.3,681.02 457.3,680.95 457.3,685.05 456.3,685.15 455.3,685.25 454.3,685.35 453.3,685.45 452.3,685.55 451.3,685.65 450.3,685.75 449.3,685.85 448.3,685.95 447.3,686.05 446.3,686.15 445.3,686.25 444.3,686.35 443.3,686.45 442.3,686.56 441.3,686.66 440.3,686.73 439.3,686.79 438.3,686.84 437.3,686.90 436.3,686.95 435.3,687.01 434.3,687.06 433.3,687.12 432.3,687.17 431.3,687.23 430.3,687.28 429.3,687.34 428.3,687.39 427.3,687.45 426.3,687.50 425.3,687.56 424.3,687.61 423.3,687.67 422.3,687.72 421.3,687.78 420.3,687.83 419.3,687.89 418.3,687.94 417.3,688.00 416.3,688.05 415.3,688.11 414.3,688.16 413.3,688.22 412.3,688.27 411.3,688.33 410.3,688.38 409.3,688.44 408.3,688.49 407.3,688.55 406.3,688.60 405.3,688.66 404.3,688.71 403.3,688.75 402.3,688.80 401.3,688.85 400.3,688.89 399.3,688.94 398.3,688.98 397.3,689.03 396.3,689.07 395.3,689.12 394.3,689.17 393.3,689.21 392.3,689.26 391.3,689.30 390.3,689.35 389.3,689.39 388.3,689.44 387.3,689.46 386.3,689.46 385.3,689.46 384.3,689.47 383.3,689.47 382.3,689.48 381.3,689.48 380.3,689.49 379.3,689.49 378.3,689.49 377.3,689.50 376.3,689.50 375.3,689.51 374.3,689.53 373.3,689.56 372.3,689.58 371.3,689.61 370.3,689.64 369.3,689.67 368.3,689.70 367.3,689.73 366.3,689.75 365.3,689.78 364.3,689.81 363.3,689.84 362.3,689.87 361.3,689.89 360.3,689.92 359.3,689.95 358.3,689.98 357.3,690.01 356.3,690.04 355.3,690.06 354.3,690.09 353.3,690.10 352.3,690.10 351.3,690.10 350.3,690.10 349.3,690.10 348.3,690.10 347.3,690.10 346.3,690.10 345.3,690.10 344.3,690.10 343.3,690.10 342.3,690.10 341.3,690.10 340.3,690.10 339.3,690.10 338.3,690.10 337.3,690.10 336.3,690.02 335.3,689.90 334.3,689.78 333.3,689.66 332.3,689.54 331.3,689.41 330.3,689.29 329.3,689.17 328.3,689.05 327.3,688.93 326.3,688.81 325.3,688.69 324.3,688.54 323.3,688.38 322.3,688.21 321.3,688.05 320.3,687.88 319.3,687.72 318.3,687.55 317.3,687.53 316.3,687.58 315.3,687.63 314.3,687.67 313.3,687.72 312.3,687.76 311.3,687.81 310.3,687.86 309.3,687.90 308.3,687.95 307.3,688.00 306.3,688.04 305.3,688.09 304.3,688.14 303.3,688.18 302.3,688.23 301.3,688.30 300.3,688.37 299.3,688.45 298.3,688.52 297.3,688.60 296.3,688.67 295.3,688.75 294.3,688.82 293.3,688.90 292.3,688.98 291.3,689.05 290.3,689.13 289.3,689.17 288.3,689.21 287.3,689.24 286.3,689.28 285.3,689.31 284.3,689.35 283.3,689.38 282.3,689.42 281.3,689.45 280.3,689.49 279.3,689.52 278.3,689.56 277.3,689.56 276.3,689.55 275.3,689.54 274.3,689.54 273.3,689.53 272.3,689.52 271.3,689.51 270.3,689.50 269.3,689.49 268.3,689.48 267.3,689.47 266.3,689.46 265.3,689.45 264.3,689.44 263.3,689.43 262.3,689.42 261.3,689.41 260.3,689.40 259.3,689.38 258.3,689.34 257.3,689.30 256.3,689.27 255.3,689.23 254.3,689.20 253.3,689.16 252.3,689.13 251.3,689.09 250.3,689.06 249.3,689.02 248.3,688.99 247.3,688.95 246.3,688.92 245.3,688.88 244.3,688.85 243.3,688.81 242.3,688.86 241.3,688.95 240.3,689.03 239.3,689.12 238.3,689.20 237.3,689.29 236.3,689.37 235.3,689.46 234.3,689.54 233.3,689.63 232.3,689.72 231.3,689.80 230.3,689.89 229.3,689.97 228.3,690.06 227.3,690.14 226.3,690.23 225.3,690.27 224.3,690.28 223.3,690.30 222.3,690.31 221.3,690.33 220.3,690.34 219.3,690.36 218.3,690.37 217.3,690.39 216.3,690.40 215.3,690.42 214.3,690.43 213.3,690.38 212.3,690.28 211.3,690.15 210.3,690.03 209.3,689.91 208.3,689.79 207.3,689.67 206.3,689.55 205.3,689.43 204.3,689.31 203.3,689.20 202.3,689.11 201.3,689.01 200.3,688.91 199.3,688.84 198.3,688.78 197.3,688.71 196.3,688.65 195.3,688.59 194.3,688.53 193.3,688.46 192.3,688.40 191.3,688.36 190.3,688.34 189.3,688.31 188.3,688.29 187.3,688.26 186.3,688.24 185.3,688.22 184.3,688.19 183.3,688.17 182.3,688.14 181.3,688.12 180.3,688.09 179.3,688.07 178.3,688.04 177.3,688.02 176.3,687.99 175.3,687.97 174.3,687.94 173.3,687.91 172.3,687.89 171.3,687.86 170.3,687.84 169.3,687.81 168.3,687.79 167.3,687.76 166.3,687.74 165.3,687.71 164.3,687.68 163.3,687.66 162.3,687.63 161.3,687.61 160.3,687.61 159.3,687.63 158.3,687.64 157.3,687.66 156.3,687.67 155.3,687.69 154.3,687.70 153.3,687.72 152.3,687.73 151.3,687.75 150.3,687.76 149.3,687.78 148.3,687.80 147.3,687.81 146.3,687.83 145.3,687.84 144.3,687.86 143.3,687.87 142.3,687.89 141.3,687.90 140.3,687.92 139.3,687.93 138.3,687.95 137.3,687.96 136.3,687.98 135.3,688.00 134.3,687.94 133.3,687.86 132.3,687.77 131.3,687.69 130.3,687.61 129.3,687.52 128.3,687.44 127.3,687.35 126.3,687.27 125.3,687.19 124.3,687.10 123.3,687.02 122.3,686.93 121.3,686.85" fill="#0e0e0e" filter="url(#bl2)"/></g>
<rect x="119.55" y="636.9" width="339.7" height="21.55" fill="none" stroke="#000" stroke-width="3.5"/>
<rect x="119.55" y="668.65" width="339.2" height="30.8" fill="none" stroke="#000" stroke-width="3.5"/>
</svg>
</body></html>
